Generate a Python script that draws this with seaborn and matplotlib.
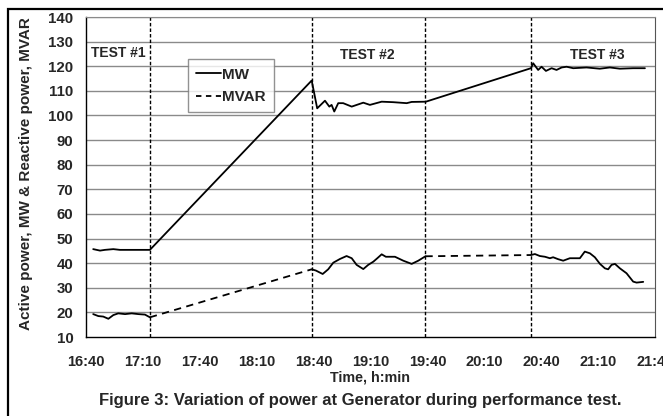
import pandas as pd
import matplotlib.pyplot as plt
import seaborn as sns
from matplotlib.lines import Line2D
from matplotlib.patches import Rectangle

# ---------------------------
# Data (minutes after 16:40)
# ---------------------------
mw_min = [3.8, 7.4, 10.0, 14.4, 17.9, 33.7,
          119.0, 121.9, 126.0, 128.3, 129.5, 130.9, 133.0, 135.6, 140.1, 146.2,
          149.7, 155.9, 162.0, 169.1, 171.7, 179.2,
          234.6, 235.8, 238.4, 240.2, 242.5, 245.5, 248.1, 250.8, 253.4, 256.9,
          263.9, 270.9, 276.2, 281.5, 288.5, 294.7]
mw_val = [45.7, 45.1, 45.4, 45.7, 45.4, 45.4,
          114.2, 102.9, 106.0, 103.6, 104.3, 101.6, 105.0, 105.0, 103.6, 105.2,
          104.3, 105.6, 105.4, 105.0, 105.5, 105.6,
          119.2, 121.2, 118.5, 119.8, 118.1, 119.2, 118.5, 119.5, 119.8, 119.2,
          119.5, 119.0, 119.5, 119.0, 119.2, 119.2]

mvar1_min = [3.8, 6.5, 9.1, 11.8, 14.4, 17.0, 20.6, 24.1, 27.6, 31.1, 33.7]
mvar1_val = [19.3, 18.5, 18.3, 17.4, 18.9, 19.6, 19.3, 19.6, 19.3, 19.1, 18.0]

mvar2_min = [119.0, 121.2, 124.8, 127.7, 130.4, 133.9, 137.4, 140.1, 142.7, 146.2,
             148.8, 151.5, 153.6, 155.9, 158.1, 162.9, 167.3, 171.7, 175.2, 179.0]
mvar2_val = [37.5, 37.0, 35.6, 37.5, 40.2, 41.7, 42.9, 42.0, 39.3, 37.6,
             39.3, 40.6, 42.0, 43.6, 42.6, 42.6, 41.0, 39.7, 41.0, 42.8]

mvar3_min = [234.6, 236.7, 239.3, 242.0, 244.6, 246.3, 249.0, 251.6, 255.1, 257.8,
             260.4, 263.0, 265.7, 268.3, 271.0, 273.6, 275.3, 277.1, 278.9, 281.5,
             285.0, 288.5, 290.3, 293.8]
mvar3_val = [43.3, 43.7, 42.9, 42.6, 42.0, 42.4, 41.6, 41.0, 42.0, 42.0,
             42.0, 44.7, 44.0, 42.4, 39.7, 37.9, 37.5, 39.3, 39.7, 37.9,
             35.9, 32.5, 32.1, 32.4]

test_bounds = [34, 119, 179, 234.5]
test_labels = ["TEST #1", "TEST #2", "TEST #3"]
x_ticks = [0, 30, 60, 90, 120, 150, 180, 210, 240, 270, 300]
x_labels = ["16:40", "17:10", "17:40", "18:10", "18:40", "19:10",
            "19:40", "20:10", "20:40", "21:10", "21:40"]

sns.set_style("white")
plt.rcParams["font.family"] = ["Liberation Sans", "DejaVu Sans"]
plt.rcParams["font.weight"] = "bold"

fig = plt.figure(figsize=(6.63, 4.16), dpi=100)
ax = fig.add_axes([0.1297, 0.1899, 0.8582, 0.7692])

# horizontal grid
for yv in range(20, 141, 10):
    ax.axhline(yv, color="#8a8a8a", lw=1.0, zorder=0)

# test boundaries
for xb in test_bounds:
    ax.axvline(xb, color="black", lw=1.0, ls=(0, (2.5, 1.5)), zorder=1)

# MW line
sns.lineplot(x=mw_min, y=mw_val, ax=ax, color="black", lw=1.3, estimator=None, sort=False)

# MVAR: solid during tests, dashed in between
segs = [(mvar1_min, mvar1_val), (mvar2_min, mvar2_val), (mvar3_min, mvar3_val)]
for m, v in segs:
    sns.lineplot(x=m, y=v, ax=ax, color="black", lw=1.3, estimator=None, sort=False)
for (m1, v1), (m2, v2) in zip(segs[:-1], segs[1:]):
    ax.plot([m1[-1], m2[0]], [v1[-1], v2[0]], color="black", lw=1.3, ls=(0, (4, 3)))

# test labels
ax.text(2.5, 125.5, test_labels[0], fontsize=10, fontweight="bold", va="center", ha="left")
ax.text(148.5, 124.5, test_labels[1], fontsize=10, fontweight="bold", va="center", ha="center")
ax.text(269.5, 124.5, test_labels[2], fontsize=10, fontweight="bold", va="center", ha="center")

ax.set_xlim(0, 300)
ax.set_ylim(10, 140)
ax.set_xticks(x_ticks)
ax.set_xticklabels(x_labels)
ax.set_yticks(range(10, 141, 10))
ax.tick_params(axis="x", direction="out", length=4, width=1, pad=9, labelsize=10.5, color="#555555")
ax.tick_params(axis="y", direction="out", length=5, width=1, pad=4, labelsize=10.8, color="#555555")
for lab in ax.get_xticklabels() + ax.get_yticklabels():
    lab.set_fontweight("bold")

ax.set_xlabel("Time, h:min", fontsize=10.3, fontweight="bold")
ax.set_ylabel("Active power, MW & Reactive power, MVAR", fontsize=11, fontweight="bold")
ax.xaxis.set_label_coords(0.5, -0.104)
ax.yaxis.set_label_coords(-0.093, 0.51)

for side in ["left", "bottom"]:
    ax.spines[side].set_color("black")
    ax.spines[side].set_linewidth(1.0)
ax.spines["top"].set_color("#8a8a8a")
ax.spines["right"].set_color("#555555")

handles = [Line2D([], [], color="black", lw=1.3),
           Line2D([], [], color="black", lw=1.3, ls=(0, (3, 2.5)))]
leg = ax.legend(handles, ["MW", "MVAR"], loc="upper left", bbox_to_anchor=(0.179, 0.868),
                borderaxespad=0, frameon=True, fancybox=False, edgecolor="#777777",
                handlelength=1.6, handletextpad=0.1, borderpad=0.55, labelspacing=0.55,
                prop={"weight": "bold", "size": 11})
leg.get_frame().set_linewidth(1.0)

fig.text(0.543, 0.038, "Figure 3: Variation of power at Generator during performance test.",
         ha="center", va="center", fontsize=12, fontweight="bold")

fig.add_artist(Rectangle((8 / 663, -0.1), 1.2, 1 - 9 / 416 + 0.1, transform=fig.transFigure,
                         fill=False, edgecolor="black", lw=1.6))

fig.savefig("out.png", dpi=100)
